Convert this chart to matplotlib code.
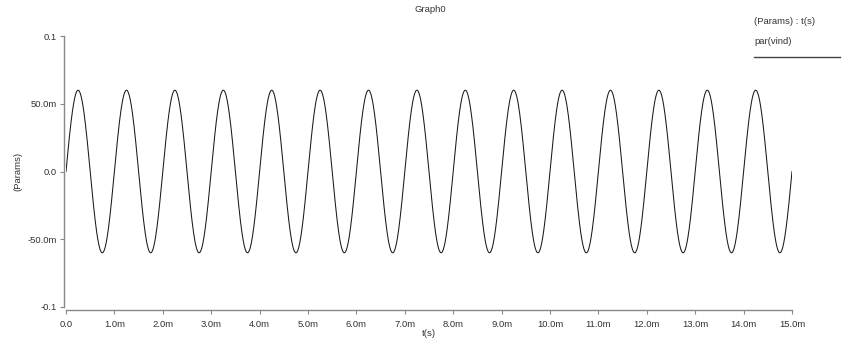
import numpy as np
import matplotlib
matplotlib.use("Agg")
import matplotlib.pyplot as plt
from matplotlib.ticker import FixedLocator

plt.rcParams['font.family'] = ['Liberation Sans', 'DejaVu Sans']

# Source definition: sine, 60 mV amplitude, 1 kHz, 0..15 ms
amplitude = 0.06
frequency = 1000.0
t_start = 0.0
t_stop = 0.015
n_samples = 3001

x_ticks = [i * 1e-3 for i in range(16)]
x_labels = ["0.0"] + [f"{i}.0m" for i in range(1, 16)]
y_ticks = [-0.1, -0.05, 0.0, 0.05, 0.1]
y_labels = ["-0.1", "-50.0m", "0.0", "50.0m", "0.1"]

t = np.linspace(t_start, t_stop, n_samples)
v = amplitude * np.sin(2 * np.pi * frequency * t)

fig = plt.figure(figsize=(8.54, 3.45), dpi=100)
ax = fig.add_axes([66/854, 1 - 307/345, (792-66)/854, (307-36)/345])
ax.plot(t, v, color='#1a1a1a', lw=0.75)
ax.set_xlim(t_start, t_stop)
ax.set_ylim(-0.1, 0.1)

gray = '#888888'
for s in ['top', 'right']:
    ax.spines[s].set_visible(False)
ax.spines['left'].set_position(('outward', 2 * 0.72))
ax.spines['bottom'].set_position(('outward', 3 * 0.72))
for s in ['left', 'bottom']:
    ax.spines[s].set_color(gray)
    ax.spines[s].set_linewidth(1.0)

ax.xaxis.set_major_locator(FixedLocator(x_ticks))
ax.set_xticklabels(x_labels)
ax.yaxis.set_major_locator(FixedLocator(y_ticks))
ax.set_yticklabels(y_labels)
ax.tick_params(axis='both', colors=gray, labelcolor='#333333', labelsize=6.8,
               length=3, width=0.8, direction='out')
ax.tick_params(axis='x', pad=4.5)
ax.tick_params(axis='y', pad=2)

ax.set_xlabel("t(s)", fontsize=6.8, color='#333333', labelpad=0)
ax.set_ylabel("(Params)", fontsize=6.8, color='#333333')
ax.yaxis.set_label_coords(-44/726, 0.5)
fig.text(430/854, 1 - 10/345, "Graph0", fontsize=6.8, color='#333333',
         ha='center', va='center')

fig.text(754/854, 1 - 21/345, "(Params) : t(s)", fontsize=6.8, color='#333333',
         ha='left', va='center')
fig.text(754/854, 1 - 41/345, "par(vind)", fontsize=6.8, color='#333333',
         ha='left', va='center')
fig.add_artist(plt.Line2D([754/854, 840/854], [1 - 57/345, 1 - 57/345],
                          color='#444444', lw=1.0))

fig.savefig("out.png", dpi=100)
